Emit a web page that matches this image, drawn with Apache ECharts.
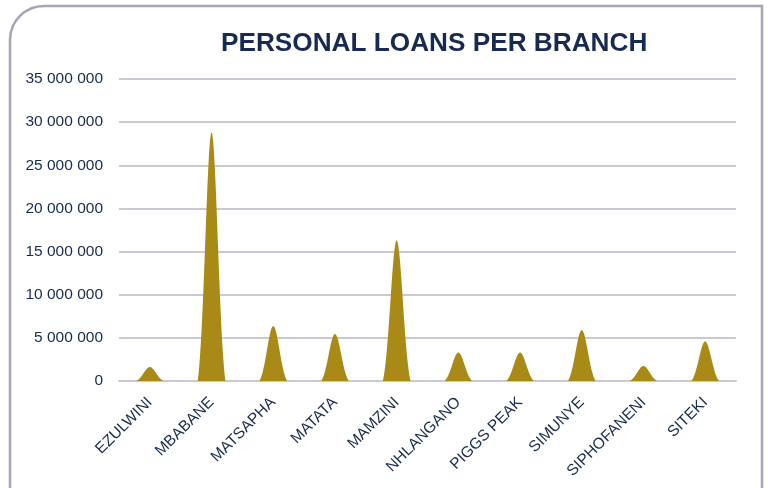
<!DOCTYPE html>
<html>
<head>
<meta charset="utf-8">
<script src="https://cdn.jsdelivr.net/npm/echarts@6/dist/echarts.min.js"></script>
<style>
  html, body { margin: 0; padding: 0; background: #ffffff; }
  #chart { width: 768px; height: 488px; }
</style>
</head>
<body>
<div id="chart"></div>
<script>
// Personal loan balances per branch
const branches = ['EZULWINI', 'MBABANE', 'MATSAPHA', 'MATATA', 'MAMZINI',
                  'NHLANGANO', 'PIGGS PEAK', 'SIMUNYE', 'SIPHOFANENI', 'SITEKI'];
const loanTotals = [1620000, 28800000, 6380000, 5450000, 16300000,
                    3300000, 3300000, 5900000, 1740000, 4580000];
const axisTicks = [0, 5000000, 10000000, 15000000, 20000000, 25000000, 30000000, 35000000];

const NAVY = '#172a4f';
const GOLD = '#a98a17';
const GRID = '#c9c8d3';

// thousands grouped with spaces: 35 000 000
function spaced(v) {
  return String(Math.round(v)).replace(/\B(?=(\d{3})+(?!\d))/g, ' ');
}

// bell-shaped "peak" outline, stretched from the zero line up to the value
function peakItem(params, api) {
  const idx = api.value(0);
  const base = api.coord([idx, 0]);
  const top = api.coord([idx, api.value(1)]);
  const h = base[1] - top[1];
  const half = 13.8, sigma = 6.2;
  const floor = Math.exp(-(half * half) / (2 * sigma * sigma));
  const pts = [];
  const steps = 56;
  for (let i = 0; i <= steps; i++) {
    const dx = -half + (2 * half * i) / steps;
    const g = Math.exp(-(dx * dx) / (2 * sigma * sigma));
    const f = (g - floor) / (1 - floor);
    pts.push([base[0] + dx, base[1] - h * f]);
  }
  return {
    type: 'polygon',
    shape: { points: pts },
    style: { fill: GOLD }
  };
}

const chart = echarts.init(document.getElementById('chart'), null, { renderer: 'canvas' });
chart.setOption({
  animation: false,
  backgroundColor: '#ffffff',
  title: {
    text: 'PERSONAL LOANS PER BRANCH',
    left: 216,
    top: 26,
    textStyle: {
      fontFamily: 'Liberation Sans, Arial, sans-serif',
      fontWeight: 'bold',
      fontSize: 26.2,
      color: NAVY
    }
  },
  graphic: [{
    type: 'rect',
    silent: true,
    z: -1,
    shape: { x: 10, y: 6, width: 752, height: 540, r: [34, 0, 0, 0] },
    style: { fill: 'none', stroke: '#a6a4b6', lineWidth: 2.5 }
  }],
  grid: { left: 119, right: 32, top: 79, bottom: 107, containLabel: false },
  xAxis: {
    type: 'category',
    data: branches,
    axisLine: { show: true, lineStyle: { color: GRID, width: 2 } },
    axisTick: { show: false },
    axisLabel: {
      rotate: 45,
      interval: 0,
      margin: 19,
      fontFamily: 'Liberation Sans, Arial, sans-serif',
      fontSize: 15.5,
      color: NAVY
    }
  },
  yAxis: {
    type: 'value',
    min: axisTicks[0],
    max: axisTicks[axisTicks.length - 1],
    interval: axisTicks[1] - axisTicks[0],
    axisLine: { show: false },
    axisTick: { show: false },
    splitLine: { lineStyle: { color: GRID, width: 2 } },
    axisLabel: {
      margin: 16,
      fontFamily: 'Liberation Sans, Arial, sans-serif',
      fontSize: 15.5,
      color: NAVY,
      formatter: spaced
    }
  },
  series: [{
    type: 'custom',
    renderItem: peakItem,
    encode: { x: 0, y: 1 },
    data: loanTotals.map((v, i) => [i, v])
  }]
});
</script>
</body>
</html>
